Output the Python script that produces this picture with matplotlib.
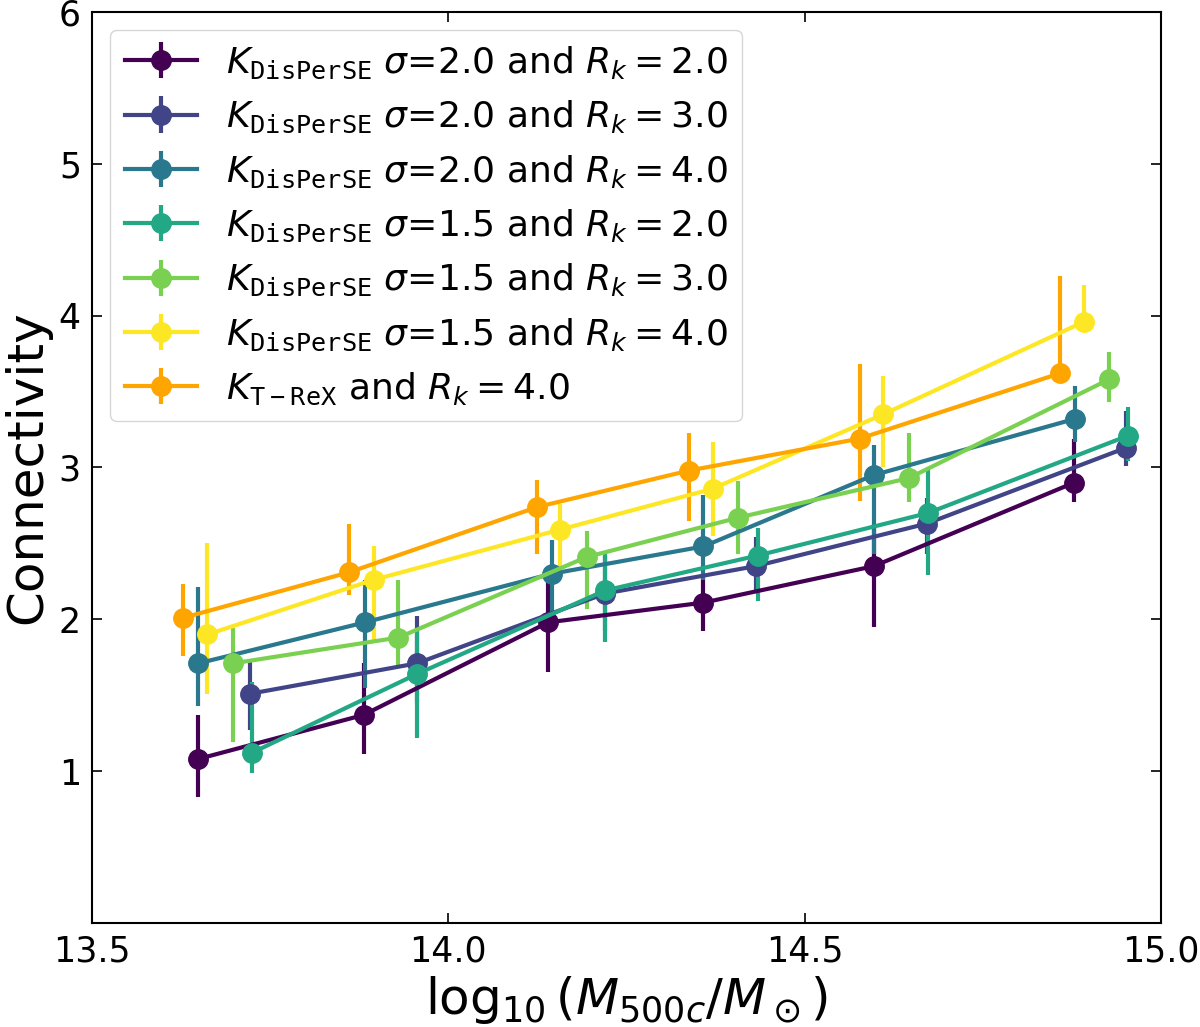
import numpy as np
import matplotlib
matplotlib.use("Agg")
import matplotlib.pyplot as plt

# masas (log10 M500c) por configuracion
x_s20_r2 = [13.649, 13.881, 14.140, 14.358, 14.597, 14.878]
x_s20_r3 = [13.722, 13.956, 14.220, 14.431, 14.671, 14.951]
x_s20_r4 = [13.649, 13.883, 14.145, 14.358, 14.597, 14.879]
x_s15_r2 = [13.724, 13.956, 14.220, 14.434, 14.673, 14.954]
x_s15_r3 = [13.698, 13.930, 14.194, 14.407, 14.646, 14.927]
x_s15_r4 = [13.662, 13.895, 14.156, 14.371, 14.610, 14.892]
x_trex = [13.628, 13.861, 14.125, 14.338, 14.577, 14.858]

# conectividad media
k_s20_r2 = [1.08, 1.37, 1.98, 2.11, 2.35, 2.90]
k_s20_r3 = [1.51, 1.71, 2.17, 2.35, 2.63, 3.13]
k_s20_r4 = [1.71, 1.98, 2.30, 2.48, 2.95, 3.32]
k_s15_r2 = [1.12, 1.64, 2.19, 2.42, 2.70, 3.21]
k_s15_r3 = [1.71, 1.88, 2.41, 2.67, 2.93, 3.58]
k_s15_r4 = [1.90, 2.26, 2.59, 2.86, 3.35, 3.96]
k_trex = [2.01, 2.31, 2.74, 2.98, 3.19, 3.62]

# errores (abajo, arriba)
lo_s20_r2 = [0.25, 0.26, 0.33, 0.19, 0.40, 0.13]
up_s20_r2 = [0.29, 0.34, 0.30, 0.19, 0.28, 0.29]
lo_s20_r3 = [0.24, 0.26, 0.25, 0.17, 0.20, 0.12]
up_s20_r3 = [0.23, 0.31, 0.25, 0.19, 0.17, 0.24]
lo_s20_r4 = [0.28, 0.43, 0.30, 0.22, 0.52, 0.15]
up_s20_r4 = [0.50, 0.28, 0.22, 0.34, 0.20, 0.22]
lo_s15_r2 = [0.13, 0.42, 0.34, 0.30, 0.41, 0.17]
up_s15_r2 = [0.47, 0.30, 0.26, 0.18, 0.30, 0.19]
lo_s15_r3 = [0.52, 0.18, 0.34, 0.24, 0.16, 0.15]
up_s15_r3 = [0.23, 0.38, 0.17, 0.24, 0.30, 0.18]
lo_s15_r4 = [0.39, 0.40, 0.25, 0.31, 0.35, 0.07]
up_s15_r4 = [0.60, 0.22, 0.17, 0.31, 0.25, 0.24]
lo_trex = [0.25, 0.15, 0.31, 0.33, 0.41, 0.02]
up_trex = [0.22, 0.32, 0.18, 0.25, 0.49, 0.64]

etiquetas = [
    r"$K_{\mathtt{DisPerSE}}$ $\sigma$=2.0 and $R_k = 2.0$",
    r"$K_{\mathtt{DisPerSE}}$ $\sigma$=2.0 and $R_k = 3.0$",
    r"$K_{\mathtt{DisPerSE}}$ $\sigma$=2.0 and $R_k = 4.0$",
    r"$K_{\mathtt{DisPerSE}}$ $\sigma$=1.5 and $R_k = 2.0$",
    r"$K_{\mathtt{DisPerSE}}$ $\sigma$=1.5 and $R_k = 3.0$",
    r"$K_{\mathtt{DisPerSE}}$ $\sigma$=1.5 and $R_k = 4.0$",
    r"$K_{\mathtt{T-ReX}}$ and $R_k = 4.0$",
]

series = [
    (x_s20_r2, k_s20_r2, lo_s20_r2, up_s20_r2),
    (x_s20_r3, k_s20_r3, lo_s20_r3, up_s20_r3),
    (x_s20_r4, k_s20_r4, lo_s20_r4, up_s20_r4),
    (x_s15_r2, k_s15_r2, lo_s15_r2, up_s15_r2),
    (x_s15_r3, k_s15_r3, lo_s15_r3, up_s15_r3),
    (x_s15_r4, k_s15_r4, lo_s15_r4, up_s15_r4),
    (x_trex, k_trex, lo_trex, up_trex),
]

colores = list(plt.cm.viridis(np.linspace(0, 1, 6))) + ["orange"]

fig = plt.figure(figsize=(12, 10.27), dpi=100)
ax = fig.add_axes([0.0767, 0.1013, 0.8908, 0.887])

for (x, k, lo, up), c, lab in zip(series, colores, etiquetas):
    ax.errorbar(x, k, yerr=[lo, up], color=c, marker="o", markersize=14,
                lw=3, elinewidth=3, capsize=0, label=lab)

ax.set_xlim(13.5, 15.0)
ax.set_ylim(0, 6)
ax.set_xticks([13.5, 14.0, 14.5, 15.0])
ax.set_xticklabels(["13.5", "14.0", "14.5", "15.0"])
ax.set_yticks([1, 2, 3, 4, 5, 6])
ax.tick_params(direction="in", top=True, right=True, labelsize=25,
               length=7, width=1.2, pad=8)
for s in ax.spines.values():
    s.set_linewidth(1.5)

ax.set_xlabel(r"$\log_{10}(M_{500c}/M_\odot)$", fontsize=36, labelpad=4)
ax.set_ylabel("Connectivity", fontsize=36, labelpad=5)

ax.legend(loc="upper left", fontsize=26, handlelength=2.0, labelspacing=0.5,
          handletextpad=0.8, borderaxespad=0.5)

fig.savefig("out.png", dpi=100)
